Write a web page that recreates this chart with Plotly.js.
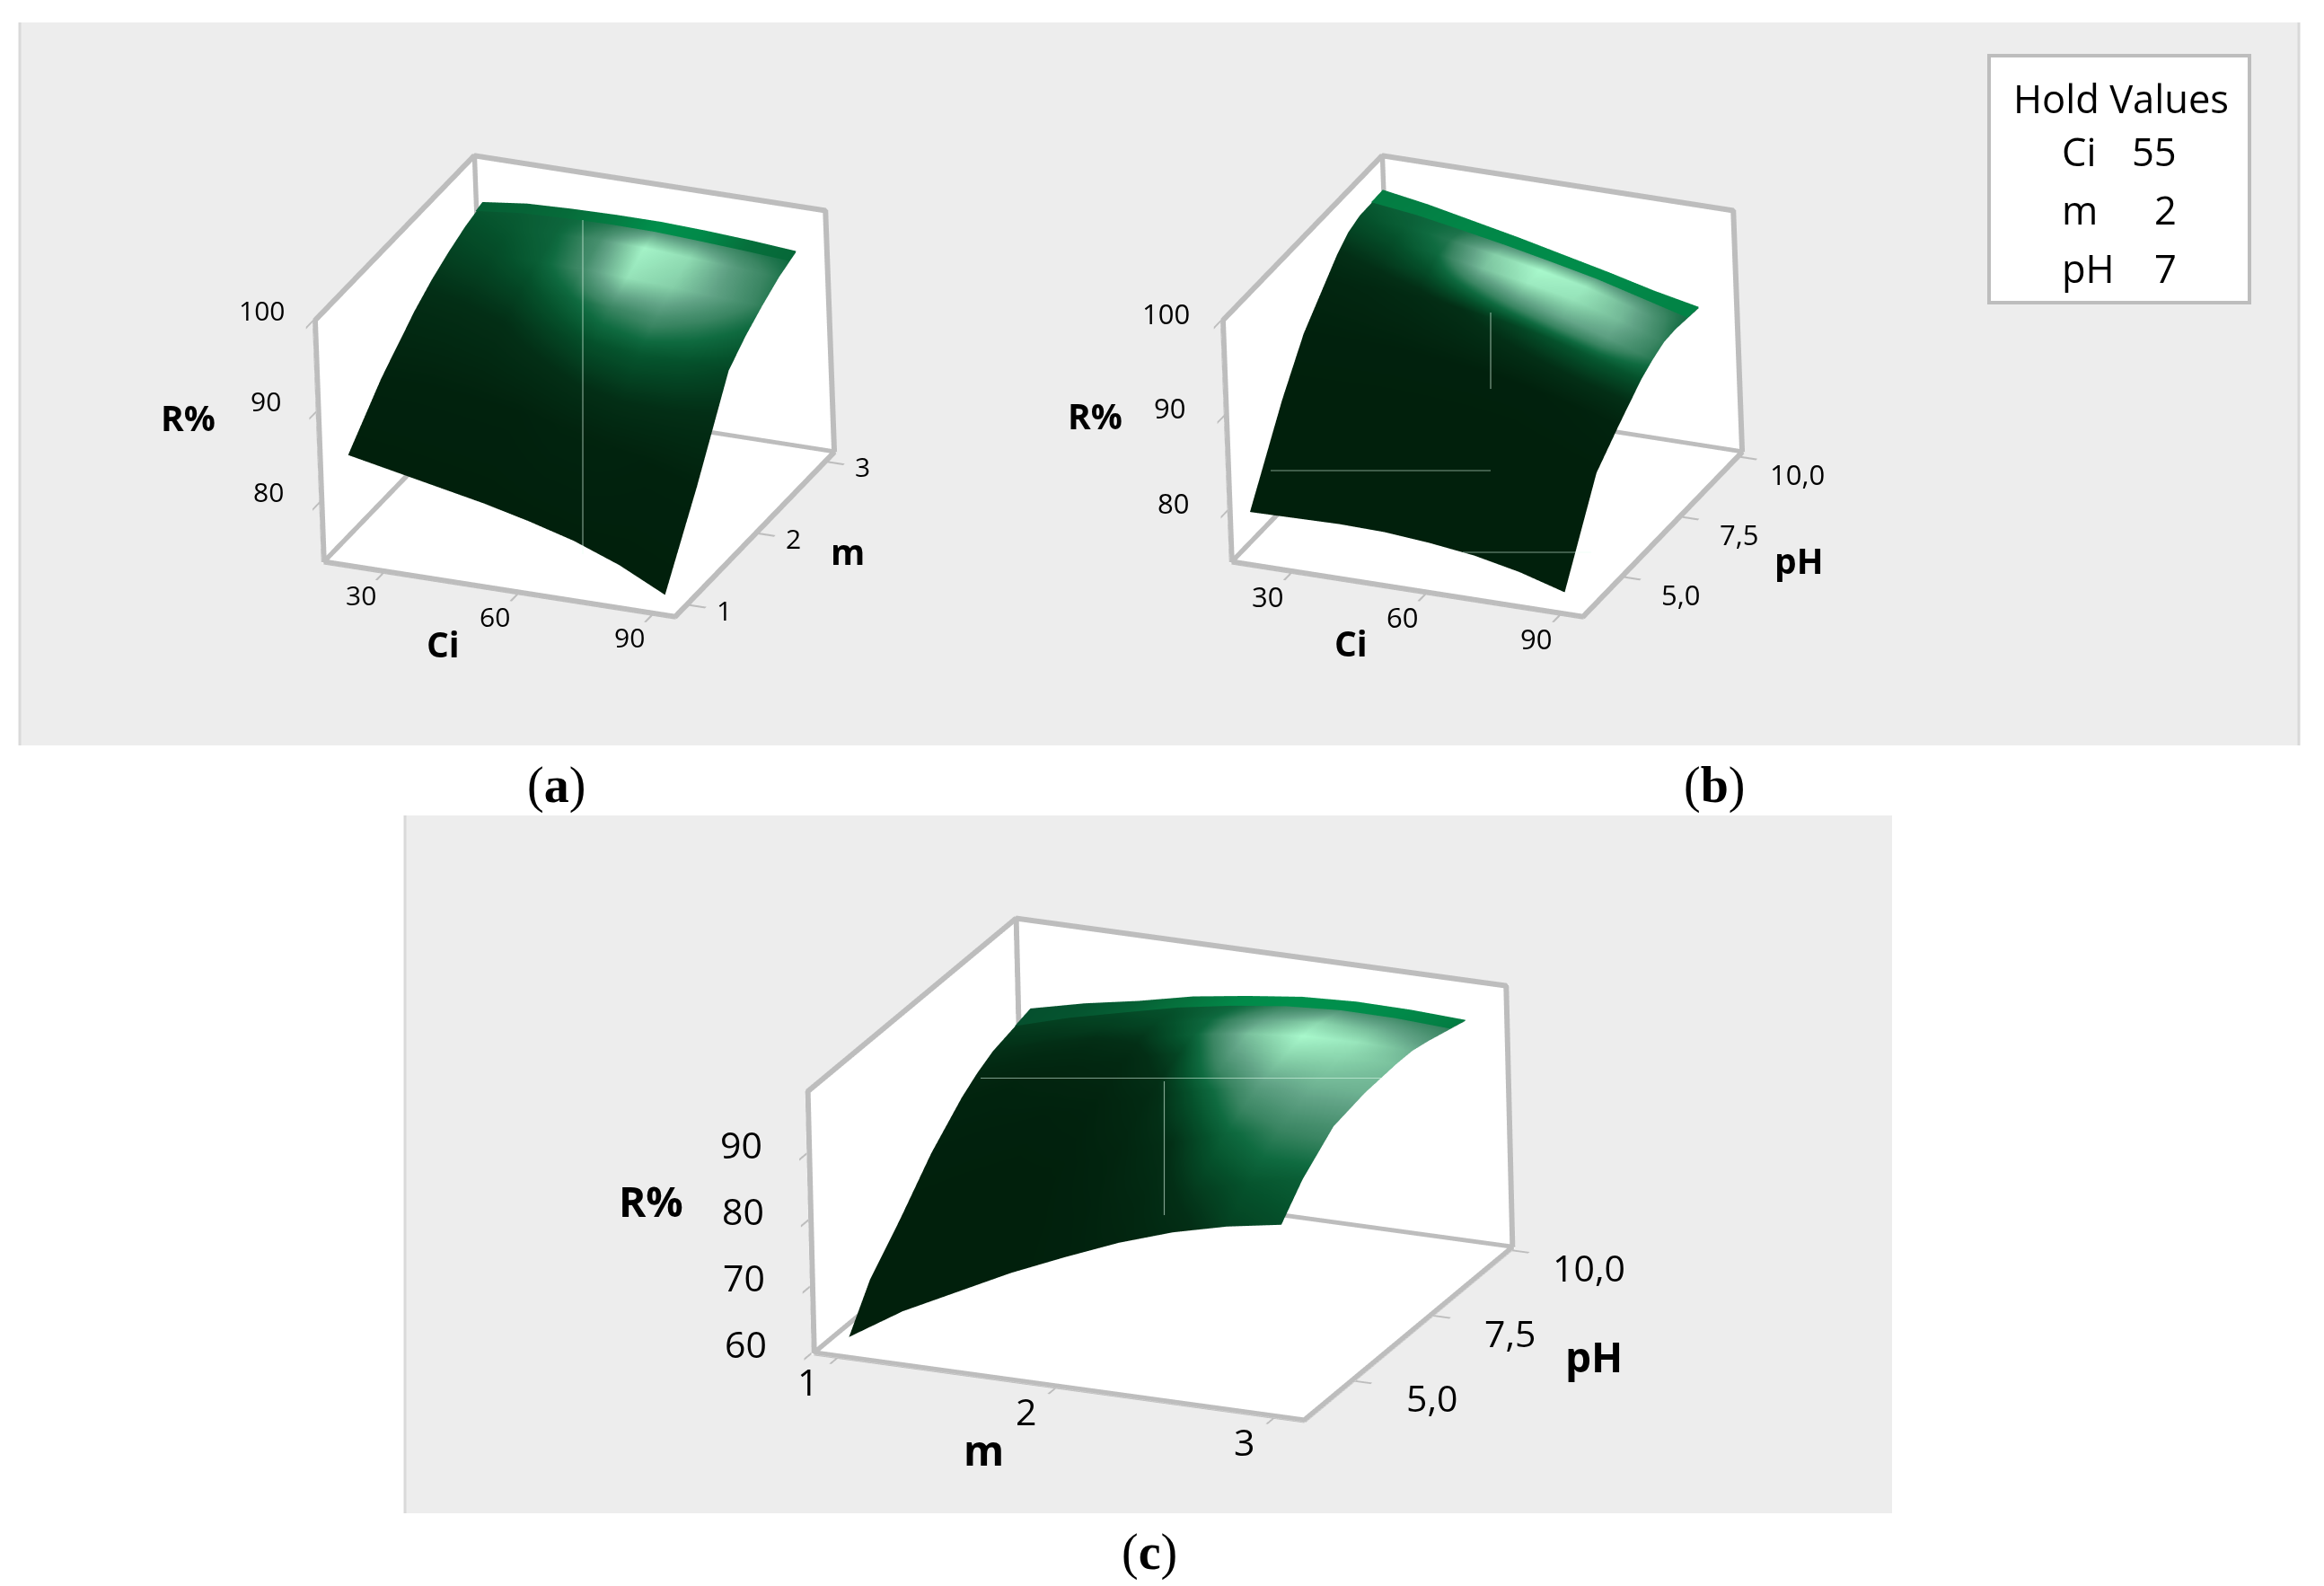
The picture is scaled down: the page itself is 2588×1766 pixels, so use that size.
<!DOCTYPE html>
<html><head><meta charset="utf-8">
<script src="https://cdn.plot.ly/plotly-3.0.1.min.js"></script>
<style>html,body{margin:0;padding:0;background:#fff}</style>
</head><body><div id="chart" style="width:2588px;height:1766px"></div>
<script>
// ---- data ----
const ciGrid = [20,30,40,50,60,70,80,90];
const mGridA = [1,1.5,2,2.25,2.5,2.75,3];
const phGridB = [3.5,5,6,7,7.5,8,8.5,9.5];
const mGridC = [1,1.25,1.5,1.75,2,2.25,2.5,2.75,3];
const phGridC = [3.8,4.5,5.5,6.5,7.5,8,8.5,9.7];

const rA = [
 [84,83,82,81,79.8,78.4,76.5,74],
 [88.5,88.6,88,87.3,86.3,85.1,83.6,82],
 [92,92.3,92.3,92,91.6,91.1,91,90.8],
 [93.4,93.8,93.9,93.8,93.5,93.1,92.9,92.6],
 [94.5,95,95,95,94.8,94.5,94.2,94],
 [95.4,95.9,96.1,96.2,96.1,95.8,95.5,95.2],
 [96,96.6,96.8,96.9,96.9,96.7,96.4,96]];
const shadeA = [
 [0,0,0,0,0,0,0,0],
 [.03,.03,.03,.03,.05,.05,.03,.03],
 [.15,.17,.2,.28,.35,.37,.35,.3],
 [.22,.25,.3,.42,.55,.6,.52,.42],
 [.28,.32,.4,.58,.92,.85,.68,.52],
 [.33,.37,.43,.6,.98,.9,.66,.5],
 [.38,.4,.43,.45,.45,.45,.45,.42]];

const rB = [
 [79.5,79.6,79.7,79.6,79.2,78.6,77.6,76.2],
 [87.5,87.6,87.8,87.8,87.5,87,86,85],
 [92,92,92,91.5,91,90,88.8,87.5],
 [95,95,94.8,94.3,93.6,92.6,91.3,89.8],
 [96.5,96.4,96,95.4,94.6,93.6,92.2,90.6],
 [97.6,97.3,96.8,96,95.2,94.2,92.8,91.2],
 [98.1,97.7,97,96.2,95.3,94.3,92.9,91.3],
 [98.2,97.4,96.4,95.4,94.3,93.2,92,91]];
const shadeB = [
 [0,0,0,0,0,0,0,0],
 [0,0,0,0,0,0,0,0],
 [.02,.02,.02,.02,.02,.02,.03,.05],
 [.08,.1,.14,.2,.28,.35,.38,.35],
 [.18,.24,.32,.5,.65,.72,.68,.5],
 [.28,.33,.45,.8,.95,.92,.78,.52],
 [.34,.4,.5,.85,1,.95,.75,.48],
 [.42,.44,.45,.45,.45,.45,.45,.45]];

const rC = [
 [61.5,66.5,70.5,74.5,78,81.3,84,86,87.4],
 [67.4,71.5,75.5,79,82,85,87.5,89.8,91.5],
 [72.7,77,80.8,84,87,89.6,92,94,95.5],
 [78.5,82.5,86,89,91.5,93.5,95,96,96.6],
 [83,86.5,89.6,92,94,95.5,96.5,97,97],
 [84.7,88,90.8,93.1,95,96.2,97,97.2,97],
 [86,89,91.5,93.5,95.2,96.3,97,97,96.5],
 [87.6,89.5,91,92.8,94,95,95.4,95.3,94.9]];
const shadeC = [
 [0,0,0,0,.02,.06,.15,.28,.33],
 [0,0,0,0,.03,.1,.25,.36,.4],
 [0,0,0,.01,.06,.2,.42,.55,.6],
 [.02,.02,.02,.04,.14,.4,.65,.74,.75],
 [.05,.05,.08,.12,.3,.68,.9,.88,.8],
 [.1,.12,.15,.22,.42,.8,1,.93,.75],
 [.2,.22,.25,.3,.45,.7,.88,.78,.65],
 [.3,.32,.35,.4,.42,.45,.45,.45,.45]];

// saturated green rim along the far edge of each surface
const rimRowsA = [2.9,3];
const rimLowA = [95.9,96.45,96.65,96.75,96.7,96.45,96.15,95.8];
const rimTopA = [96.1,96.7,96.9,97,97,96.8,96.5,96.1];
const rimShadeA = [.3,.35,.45,.7,1,.9,.5,.4];
const rimRowsB = [9,9.5];
const rimLowB = [98.25,97.65,96.8,95.9,94.9,93.85,92.55,91.25];
const rimTopB = [98.3,97.5,96.5,95.5,94.4,93.3,92.1,91.1];
const rimShadeB = [.7,.75,.85,.9,.95,.95,.85,.8];
const rimRowsC = [9.2,9.7];
const rimLowC = [87.03,89.39,91.31,93.19,94.6,95.65,96.17,96.11,95.67];
const rimTopC = [87.7,89.6,91.1,92.9,94.1,95.1,95.5,95.4,95];
const rimShadeC = [.1,.15,.3,.55,.9,1,1,.9,.7];

const ciTicks = [30,60,90];
const mTicks = [1,2,3];
const phTicks = [5,7.5,10];
const phTickText = ['5,0','7,5','10,0'];
const rTicksAB = [80,90,100];
const rTicksC = [60,70,80,90];
const holdNames = ['Ci','m','pH'];
const holdValues = ['55','2','7'];

// ---- helpers ----
const W=2588,H=1766;
const px=x=>x/W, py=y=>1-y/H;
const grey='#bdbdbd';
const greens=[[0,'#01200c'],[.2,'#032f16'],[.35,'#05522c'],[.45,'#0f6b40'],[.55,'#3a8562'],[.7,'#62a487'],[.85,'#85cfa8'],[1,'#a8f8cc']];
const rimGreens=[[0,'#05482a'],[.5,'#06703c'],[1,'#008f4c']];
const fontFam='"Open Sans", sans-serif';

function camera(thetaDeg,elevDeg,rollDeg,dist){
  const t=thetaDeg*Math.PI/180,e=elevDeg*Math.PI/180,r=rollDeg*Math.PI/180;
  const eye={x:dist*Math.sin(t)*Math.cos(e),y:-dist*Math.cos(t)*Math.cos(e),z:dist*Math.sin(e)};
  const R=[Math.cos(t),Math.sin(t),0],U=[-Math.sin(t)*Math.sin(e),Math.cos(t)*Math.sin(e),Math.cos(e)];
  const up={x:U[0]*Math.cos(r)-R[0]*Math.sin(r),y:U[1]*Math.cos(r)-R[1]*Math.sin(r),z:U[2]*Math.cos(r)-R[2]*Math.sin(r)};
  return {eye,up,center:{x:0,y:0,z:0},projection:{type:'orthographic'}};
}
// walls sit a hair outside the frame so the frame lines stay in front of them
const pad=r=>[r[0]-(r[1]-r[0])*.004,r[1]+(r[1]-r[0])*.004];
function frame(sc,xr,yr,zr){
  const [a,b]=xr,[c,d]=yr,[e,f]=zr;
  const P=[[a,c,e],[b,c,e],[b,d,e],[a,d,e],[a,c,e],[a,c,f],[a,d,f],[a,d,e],[a,d,f],[b,d,f],[b,d,e]];
  return {type:'scatter3d',scene:sc,mode:'lines',x:P.map(p=>p[0]),y:P.map(p=>p[1]),z:P.map(p=>p[2]),
    line:{color:grey,width:12},hoverinfo:'skip',showlegend:false};
}
function surf(sc,x,y,z,c,scale){
  return {type:'surface',scene:sc,x,y,z,surfacecolor:c,cmin:0,cmax:1,colorscale:scale||greens,showscale:false,
    lighting:{ambient:1,diffuse:0,specular:0,roughness:1,fresnel:0},hoverinfo:'skip'};
}
function axis(range,vals){
  return {title:{text:''},range:pad(range),tickmode:'array',tickvals:vals,showticklabels:false,
    ticks:'outside',ticklen:20,tickwidth:5,tickcolor:grey,
    showgrid:false,zeroline:false,showline:false,showspikes:false,showbackground:true,backgroundcolor:'#fff'};
}
function scene(cx,cy,w,h,cam,ar,xa,ya,za,annotations){
  return {domain:{x:[px(cx-w/2),px(cx+w/2)],y:[py(cy+h/2),py(cy-h/2)]},camera:cam,aspectmode:'manual',
    aspectratio:ar,xaxis:xa,yaxis:ya,zaxis:za,bgcolor:'rgba(0,0,0,0)',annotations};
}
// text placed at 3D data points, shifted by a few pixels
function lab(x,y,z,text,dx,dy,size,bold){
  return {x,y,z,text:bold?'<b>'+text+'</b>':text,showarrow:false,xshift:dx,yshift:-dy,xanchor:'center',yanchor:'middle',
    font:{family:fontFam,size,color:'#000'}};
}
function labels(xr,yr,zr,xv,yv,zv,yt,off,titles,size,tsize){
  const out=[];
  xv.forEach(v=>out.push(lab(v,yr[0],zr[0],String(v),off.x[0],off.x[1],size)));
  yv.forEach((v,i)=>out.push(lab(xr[1],v,zr[0],yt?yt[i]:String(v),off.y[0],off.y[1],size)));
  zv.forEach(v=>out.push(lab(xr[0],yr[0],v,String(v),off.z[0],off.z[1],size)));
  const mid=r=>(r[0]+r[1])/2;
  out.push(lab(mid(xr),yr[0],zr[0],titles[0],off.tx[0],off.tx[1],tsize,true));
  out.push(lab(xr[1],mid(yr),zr[0],titles[1],off.ty[0],off.ty[1],tsize,true));
  out.push(lab(xr[0],yr[0],mid(zr),titles[2],off.tz[0],off.tz[1],tsize,true));
  return out;
}

const rangeCiA=[16.6,95], rangeM=[.82,3.12], rangeRA=[73.4,100];
const rangePhB=[3.3,10.15], rangeRB=[74.5,100];
const rangeMC=[.89,3.135], rangePhC=[3.45,10.07], rangeRC=[60,99.3];

const data=[
 surf('scene',ciGrid,mGridA,rA,shadeA), surf('scene',ciGrid,rimRowsA,[rimLowA,rimTopA],[rimShadeA,rimShadeA],rimGreens), frame('scene',rangeCiA,rangeM,rangeRA),
 surf('scene2',ciGrid,phGridB,rB,shadeB), surf('scene2',ciGrid,rimRowsB,[rimLowB,rimTopB],[rimShadeB,rimShadeB],rimGreens), frame('scene2',rangeCiA,rangePhB,rangeRB),
 surf('scene3',mGridC,phGridC,rC,shadeC), surf('scene3',mGridC,rimRowsC,[rimLowC,rimTopC],[rimShadeC,rimShadeC],rimGreens), frame('scene3',rangeMC,rangePhC,rangeRC)
];

const ann=[];
function note(x,y,t,size,opt){ann.push(Object.assign({xref:'paper',yref:'paper',x:px(x),y:py(y),text:t,showarrow:false,
  font:{family:fontFam,size,color:'#000'},xanchor:'center',yanchor:'middle'},opt||{}));}
const serif='"Liberation Serif", serif';
note(619,875,'(<b>a</b>)',56,{font:{family:serif,size:56,color:'#000'}});
note(1909,875,'(<b>b</b>)',56,{font:{family:serif,size:56,color:'#000'}});
note(1280,1728,'(<b>c</b>)',56,{font:{family:serif,size:56,color:'#000'}});
note(2362,109,'Hold Values',43.5);
holdNames.forEach((n,i)=>{
  note(2294,169+i*64.5,n,43.5,{xanchor:'left'});
  note(2426,169+i*64.5,holdValues[i],43.5,{xanchor:'right'});
});
// faint hairlines across the surfaces
function hair(x0,y0,x1,y1){note(x1,y1,' ',4,{showarrow:true,arrowhead:0,arrowwidth:1.2,arrowcolor:'rgba(230,255,240,0.55)',
  axref:'pixel',ayref:'pixel',ax:x0-x1,ay:y0-y1,standoff:0});}
hair(649,241,649,617);
hair(1660,344,1660,433); hair(1413,524,1660,524); hair(1627,615,1772,615);
hair(1090,1200.5,1540,1200.5); hair(1296.5,1200,1296.5,1353);

const edge=(x,y0,y1)=>({type:'line',xref:'paper',yref:'paper',x0:px(x),x1:px(x),y0:py(y0),y1:py(y1),line:{color:'#d9d9d9',width:3},layer:'below'});
const shapes=[
 {type:'rect',xref:'paper',yref:'paper',x0:px(22),x1:px(2560),y0:py(830),y1:py(25),fillcolor:'#ededed',line:{width:0},layer:'below'},
 {type:'rect',xref:'paper',yref:'paper',x0:px(451),x1:px(2107),y0:py(1685),y1:py(908),fillcolor:'#ededed',line:{width:0},layer:'below'},
 edge(22,830,25),edge(2560,830,25),edge(451,1685,908),
 {type:'rect',xref:'paper',yref:'paper',x0:px(2215),x1:px(2505),y0:py(337),y1:py(62),fillcolor:'#fff',line:{width:4,color:grey}}
];

const offA={x:[-26,27],y:[41,7],z:[-59,-11],tx:[-63,60],ty:[104,18],tz:[-146,-27]};
const offB={x:[-27,28],y:[65,21],z:[-63,-8],tx:[-63,59],ty:[152,28],tz:[-147,-29]};
const offC={x:[-34,28],y:[88,20],z:[-76,-10],tx:[-84,70],ty:[207,25],tz:[-178,-24]};

const kA=1.09, kC=1.54;
const layout={width:W,height:H,margin:{l:0,r:0,t:0,b:0},paper_bgcolor:'#fff',plot_bgcolor:'#fff',showlegend:false,
 shapes,annotations:ann,
 scene:scene(640,430,1000,800,camera(24.2,25.6,-2.1,1.77),{x:kA*.985,y:kA*1.07*434/448,z:kA*1.02*303/448},
   axis(rangeCiA,ciTicks),axis(rangeM,mTicks),axis(rangeRA,rTicksAB),
   labels(rangeCiA,rangeM,rangeRA,ciTicks,mTicks,rTicksAB,null,offA,['Ci','m','R%'],30,39)),
 scene2:scene(1651,430,1000,800,camera(24.2,25.6,-2.1,1.77),{x:kA*.985,y:kA*1.07*434/448,z:kA*1.02*303/448},
   axis(rangeCiA,ciTicks),axis(rangePhB,phTicks),axis(rangeRB,rTicksAB),
   labels(rangeCiA,rangePhB,rangeRB,ciTicks,phTicks,rTicksAB,phTickText,offB,['Ci','pH','R%'],31,39)),
 scene3:scene(1292,1302,1100,770,camera(24.4,21,-1.4,1.25),{x:kC*1.015,y:kC*1.025*570/600,z:kC*1.02*312/600},
   axis(rangeMC,mTicks),axis(rangePhC,phTicks),axis(rangeRC,rTicksC),
   labels(rangeMC,rangePhC,rangeRC,mTicks,phTicks,rTicksC,phTickText,offC,['m','pH','R%'],41,46))
};
Plotly.newPlot('chart',data,layout,{displayModeBar:false});
</script></body></html>
